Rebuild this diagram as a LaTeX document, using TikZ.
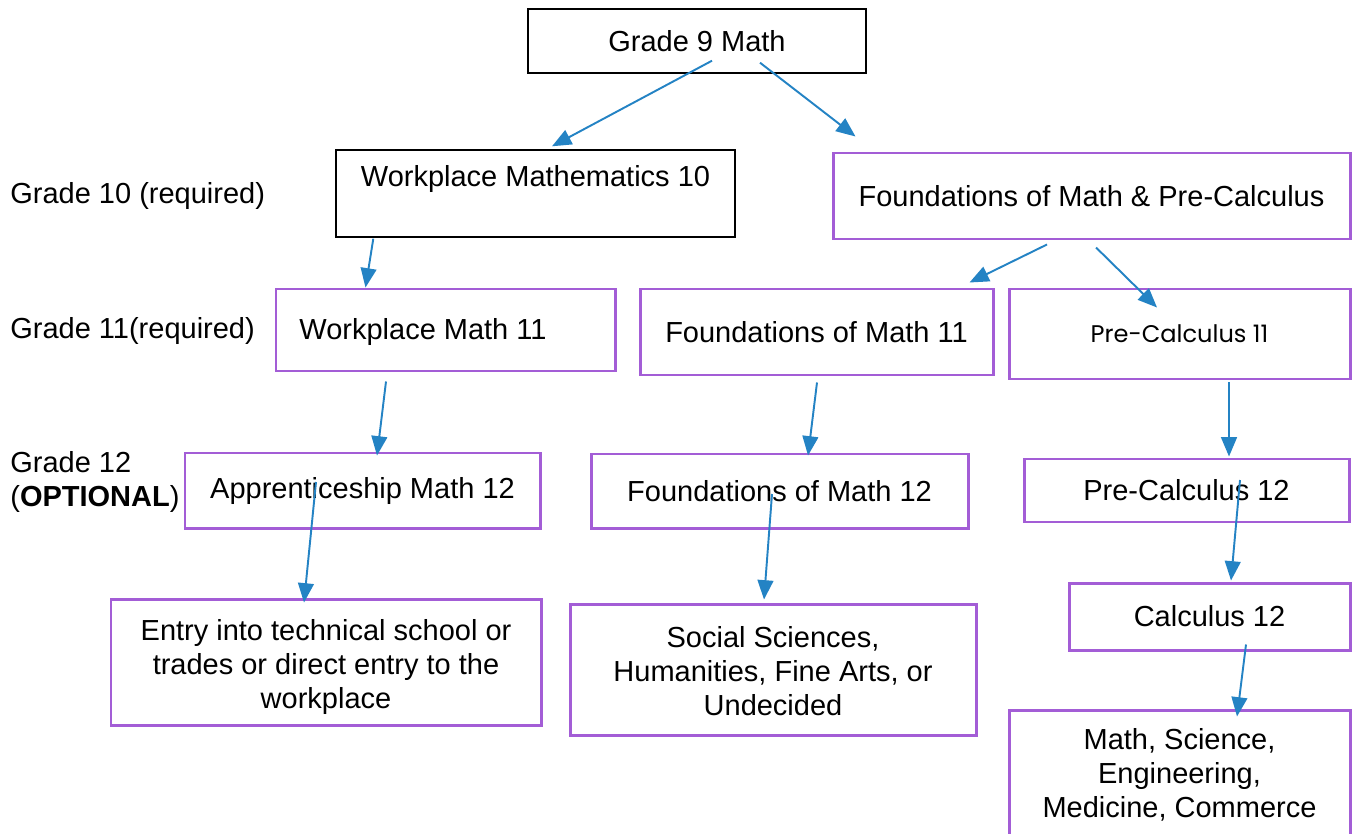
\documentclass[tikz,border=0pt]{standalone}
\usepackage{fontspec}
\setmainfont{Liberation Sans}
\newfontfamily\gothicfont{Poppins}
\usetikzlibrary{arrows.meta}
\definecolor{boxpurple}{RGB}{163,93,214}
\definecolor{arrowblue}{RGB}{36,131,196}

\begin{document}
\begin{tikzpicture}[
		blackbox/.style={draw=black, line width=0.8pt, inner sep=0pt, align=center},
		purplebox/.style={draw=boxpurple, line width=1.7pt, inner sep=0pt, align=center},
		link/.style={draw=arrowblue, line width=1.1pt, -{Triangle[length=11pt,width=9pt]}},
		every node/.style={font=\fontsize{16.5}{19.3}\selectfont}
	]
		%%%%% START %%%%%
		
		\useasboundingbox (0,0) rectangle (27.06,-16.66);
		
		% grade labels
		\node[anchor=west, inner sep=0pt] (g10lbl) at (0.2,-3.92) {Grade 10 (required)};
		\node[anchor=west, inner sep=0pt] (g11lbl) at (0.2,-6.62) {Grade 11(required)};
		\node[anchor=west, inner sep=0pt, align=left] (g12lbl) at (0.2,-9.64) {Grade 12\\(\textbf{OPTIONAL})};
		
		% courses
		\node[blackbox, minimum width=6.76cm, minimum height=1.28cm] (g9) at (13.94,-0.82) {Grade 9 Math};
		
		\node[blackbox, minimum width=7.98cm, minimum height=1.74cm] (wm10) at (10.71,-3.87) {};
		\node at ([yshift=0.28cm]wm10.center) {Workplace Mathematics 10};
		\node[purplebox, minimum width=10.34cm, minimum height=1.72cm] (fpc) at (21.83,-3.92) {Foundations of Math \& Pre-Calculus};
		
		\node[purplebox, minimum width=6.78cm, minimum height=1.64cm] (wm11) at (8.91,-6.6) {};
		\node at ([xshift=-0.45cm,yshift=-0.04cm]wm11.center) {Workplace Math 11};
		\node[purplebox, minimum width=7.06cm, minimum height=1.72cm] (fm11) at (16.33,-6.64) {Foundations of Math 11};
		\node[purplebox, minimum width=6.82cm, minimum height=1.8cm] (pc11) at (23.59,-6.68) {\gothicfont\fontsize{13.7}{16}\selectfont Pre-Calculus 11};
		
		\node[purplebox, minimum width=7.1cm, minimum height=1.5cm] (am12) at (7.25,-9.81) {Apprenticeship Math 12};
		\node[purplebox, minimum width=7.54cm, minimum height=1.48cm] (fm12) at (15.59,-9.82) {Foundations of Math 12};
		\node[purplebox, minimum width=6.5cm, minimum height=1.26cm] (pc12) at (23.73,-9.81) {Pre-Calculus 12};
		\node[purplebox, minimum width=5.62cm, minimum height=1.34cm] (c12) at (24.19,-12.33) {Calculus 12};
		
		% destinations
		\node[purplebox, minimum width=8.6cm, minimum height=2.52cm] (entry) at (6.52,-13.24) {};
		\node at ([yshift=-0.1cm]entry.center) [align=center] {Entry into technical school or\\trades or direct entry to the\\workplace};
		\node[purplebox, minimum width=8.12cm, minimum height=2.62cm] (soc) at (15.46,-13.39) {};
		\node at ([yshift=-0.04cm]soc.center) [align=center] {Social Sciences,\\Humanities, Fine Arts, or\\Undecided};
		\node[purplebox, minimum width=6.82cm, minimum height=2.6cm] (msc) at (23.59,-15.5) {Math, Science,\\Engineering,\\Medicine, Commerce};
		
		% arrows
		\draw[link] ([xshift=0.3cm,yshift=0.26cm]g9.south) -- ([xshift=0.33cm,yshift=0.06cm]wm10.north);
		\draw[link] ([xshift=1.26cm,yshift=0.22cm]g9.south) -- ([xshift=0.48cm,yshift=0.3cm]fpc.north west);
		
		\draw[link] ([xshift=0.76cm,yshift=-0.02cm]wm10.south west) -- ([xshift=1.82cm]wm11.north west);
		\draw[link] ([xshift=-0.89cm,yshift=-0.08cm]fpc.south) -- ([xshift=-0.5cm,yshift=0.1cm]fm11.north east);
		\draw[link] ([xshift=0.09cm,yshift=-0.14cm]fpc.south) -- ([xshift=-0.45cm,yshift=-0.4cm]pc11.north);
		
		\draw[link] ([xshift=-1.19cm,yshift=-0.18cm]wm11.south) -- ([xshift=0.29cm,yshift=-0.08cm]am12.north);
		\draw[link] ([xshift=0.01cm,yshift=-0.12cm]fm11.south) -- ([xshift=0.57cm,yshift=-0.06cm]fm12.north);
		\draw[link] ([xshift=0.99cm,yshift=-0.04cm]pc11.south) -- ([xshift=0.85cm,yshift=0.02cm]pc12.north);
		
		\draw[link] ([xshift=-0.93cm,yshift=0.17cm]am12.center) -- ([xshift=-0.44cm,yshift=-0.1cm]entry.north);
		\draw[link] ([xshift=-0.15cm,yshift=-0.06cm]fm12.center) -- ([xshift=-0.18cm,yshift=0.06cm]soc.north);
		\draw[link] ([xshift=1.07cm,yshift=0.21cm]pc12.center) -- ([xshift=0.43cm,yshift=0.02cm]c12.north);
		\draw[link] ([xshift=0.73cm,yshift=0.14cm]c12.south) -- ([xshift=1.15cm,yshift=-0.16cm]msc.north);
		
		%%%%% END %%%%%
	\end{tikzpicture}
\end{document}
